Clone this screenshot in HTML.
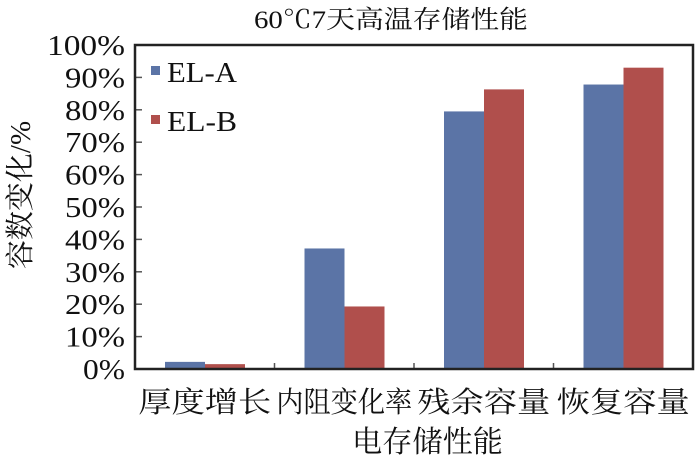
<!DOCTYPE html>
<html><head><meta charset="utf-8">
<style>
body{margin:0;background:#fff;}
svg text{font-family:"Liberation Serif","Noto Serif CJK SC",serif;fill:#111;}
</style></head>
<body>
<svg id="chart" width="700" height="464">
<text x="254" y="28" font-size="25" textLength="274" lengthAdjust="spacingAndGlyphs">60℃7天高温存储性能</text>
<text transform="translate(30,195) rotate(-90)" font-size="29" text-anchor="middle">容数变化/%</text>
<text x="352" y="452" font-size="30" textLength="151" lengthAdjust="spacingAndGlyphs">电存储性能</text>
<g id="bars"></g>
<g id="axes"></g>
<g>
<rect x="151" y="66" width="9" height="9" fill="#5b74a6"/>
<text x="167" y="82" font-size="29" textLength="70" lengthAdjust="spacingAndGlyphs">EL-A</text>
<rect x="151" y="115" width="9" height="9" fill="#b04f4c"/>
<text x="167" y="131" font-size="29" textLength="70" lengthAdjust="spacingAndGlyphs">EL-B</text>
</g>
</svg>
<script>
const categories = ["厚度增长","内阻变化率","残余容量","恢复容量"];
const seriesA = [2.2, 37.2, 79.5, 87.8];
const seriesB = [1.5, 19.3, 86.3, 93.0];
const yTicks = [0,10,20,30,40,50,60,70,80,90,100];

const ns="http://www.w3.org/2000/svg";
const L=135, R=693, T=45, B=369;
const catW=(R-L)/categories.length;
const y=v=>B-(v/100)*(B-T);
const x=i=>L+i*catW;
function mk(tag,attrs,parent){const e=document.createElementNS(ns,tag);for(const k in attrs)e.setAttribute(k,attrs[k]);parent.appendChild(e);return e;}
const bars=document.getElementById('bars'), axes=document.getElementById('axes');
categories.forEach((c,i)=>{
  const a=mk('rect',{x:x(i)+30,y:y(seriesA[i]),width:40,height:B-y(seriesA[i]),fill:'#5b74a6'},bars);
  
  
  const b=mk('rect',{x:x(i)+70,y:y(seriesB[i]),width:40,height:B-y(seriesB[i]),fill:'#b04f4c'},bars);
  
  
  const w=c.length>4?136:133;
  const t=mk('text',{x:x(i)+catW/2-w/2,y:412,'font-size':29,textLength:w,lengthAdjust:'spacingAndGlyphs'},axes);
  t.textContent=c;
  
  
  if(i>0){const tk=mk('line',{x1:x(i),x2:x(i),y1:B,y2:B-6,stroke:'#555','stroke-width':1.5},axes);
  
  }
});
yTicks.forEach(v=>{
  const tk=mk('line',{x1:L,x2:L+7,y1:y(v),y2:y(v),stroke:'#555','stroke-width':1.5},axes);
  
  
  const s=v+'%';
  const w=s.length===4?78:(s.length===3?60:42);
  const t=mk('text',{x:125-w,y:y(v)+10,'font-size':28,textLength:w,lengthAdjust:'spacingAndGlyphs'},axes);
  t.textContent=s;
  
  
});
const fr=mk('rect',{x:L,y:T,width:R-L,height:B-T,fill:'none',stroke:'#222','stroke-width':2.5},axes);


</script>
</body></html>
